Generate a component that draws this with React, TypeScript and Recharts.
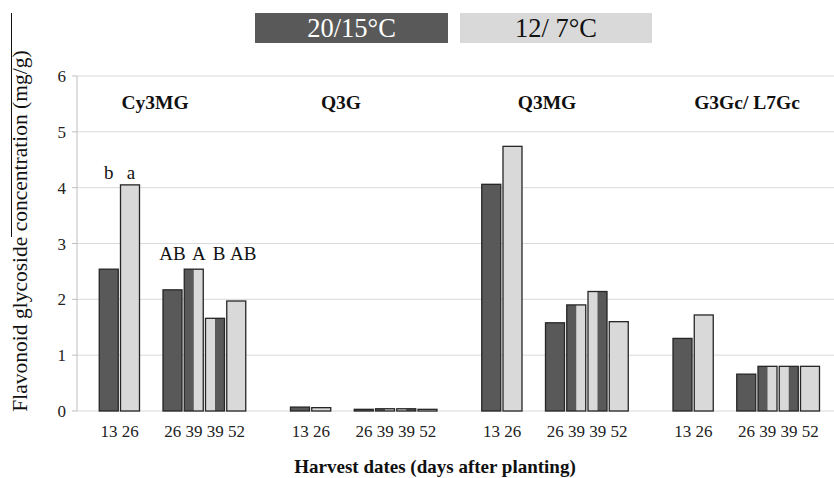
import React from "react";
import { BarChart, Bar, XAxis, YAxis, CartesianGrid, LabelList } from "recharts";

// compounds and harvest dates (days after planting)
const compounds = ["Cy3MG", "Q3G", "Q3MG", "G3Gc/ L7Gc"];
const harvestDays = ["13", "26", "26", "39", "39", "52"];

// which temperature colours each bar (left half / right half)
const leftTemp = ["warm", "cool", "warm", "warm", "cool", "cool"];
const rightTemp = ["warm", "cool", "warm", "cool", "warm", "cool"];

// concentrations (mg/g)
const cy3mg = [2.54, 4.05, 2.17, 2.54, 1.66, 1.97];
const q3g = [0.07, 0.06, 0.03, 0.04, 0.04, 0.03];
const q3mg = [4.06, 4.74, 1.58, 1.9, 2.14, 1.6];
const g3gc = [1.3, 1.72, 0.66, 0.8, 0.8, 0.8];
const cy3mgLetters = ["b", "a", "AB", "A", "B", "AB"];

const seriesByCompound = [cy3mg, q3g, q3mg, g3gc];

const WARM = "#595959";
const COOL = "#d9d9d9";
const FONT = "Liberation Serif, serif";

type Row = { day: string; slot?: number; value?: number; left?: string; right?: string; letter?: string };

const rows: Row[] = [];
compounds.forEach((_, ci) => {
  const vals = seriesByCompound[ci];
  const bar = (i: number): Row => ({
    day: harvestDays[i],
    slot: i,
    value: vals[i],
    left: leftTemp[i],
    right: rightTemp[i],
    letter: ci === 0 ? cy3mgLetters[i] : undefined,
  });
  rows.push({ day: "" }, bar(0), bar(1), { day: "" }, bar(2), bar(3), bar(4), bar(5), { day: "" });
});

const SplitBar = (props: any) => {
  const { x, y, width, height, payload } = props;
  if (!height || height <= 0) return null;
  const half = width / 2;
  const c = (t: string) => (t === "warm" ? WARM : COOL);
  return (
    <g>
      <rect x={x} y={y} width={width} height={height} fill={c(payload.left)} />
      {payload.left !== payload.right && (
        <rect x={x + half} y={y} width={width - half} height={height} fill={c(payload.right)} />
      )}
      <rect x={x} y={y} width={width} height={height} fill="none" stroke="#262626" strokeWidth={1.3} />
    </g>
  );
};

// small horizontal nudges, the letters in the original are spread a little wider than the bars
const letterNudge = [0, 1, 0, 5, 4, 7];

const letterKey = (r: Row) => (r.letter ? `${r.slot}|${r.letter}` : null);

const LetterLabel = (props: any) => {
  const { x, width, value } = props;
  if (!value) return null;
  const [slotStr, letter] = String(value).split("|");
  const slot = Number(slotStr) || 0;
  // lower-case letters sit above the first pair, capitals above the later four bars
  const ty = letter === letter.toLowerCase() ? 172 : 253;
  return (
    <text x={x + width / 2 + letterNudge[slot]} y={ty} textAnchor="middle" dominantBaseline="central" style={{ fontFamily: FONT }} fontSize={19} fill="#111">
      {letter}
    </text>
  );
};

const groupLabelX = [155, 341, 547, 747];
const tickStyle = { fontFamily: FONT, fontSize: 17, fill: "#222" };

export default function App() {
  return (
    <div style={{ position: "relative", width: 834, height: 478, fontFamily: FONT, background: "#fff" }}>
      <style>{`body{margin:0}`}</style>
      <BarChart
        width={834}
        height={478}
        data={rows}
        margin={{ top: 76, right: -8, bottom: 0, left: 0 }}
        barSize={19}
        style={{ fontFamily: FONT }}
      >
        <CartesianGrid vertical={false} stroke="#d9d9d9" />
        <XAxis
          dataKey="day"
          axisLine={false}
          tickLine={false}
          interval={0}
          height={67}
          tickSize={0}
          tickMargin={14}
          tick={tickStyle}
        />
        <YAxis
          domain={[0, 6]}
          ticks={[0, 1, 2, 3, 4, 5, 6]}
          width={77}
          axisLine={{ stroke: "#bfbfbf" }}
          tickLine={{ stroke: "#bfbfbf" }}
          tickSize={5}
          tickMargin={6}
          tick={tickStyle}
        />
        <Bar dataKey="value" shape={<SplitBar />} isAnimationActive={false}>
          <LabelList dataKey={letterKey} content={<LetterLabel />} />
        </Bar>
      </BarChart>

      {/* temperature legend */}
      <div style={{ position: "absolute", left: 255, top: 13, width: 193, height: 30, background: WARM, color: "#fff", fontSize: 26.5, textAlign: "center", lineHeight: "30px" }}>
        20/15°C
      </div>
      <div style={{ position: "absolute", left: 460, top: 13, width: 192, height: 30, background: COOL, color: "#111", fontSize: 26.5, textAlign: "center", lineHeight: "30px" }}>
        12/ 7°C
      </div>

      {/* compound names */}
      {compounds.map((c, i) => (
        <div key={c} style={{ position: "absolute", left: groupLabelX[i] - 80, top: 103, width: 160, transform: "translateY(-50%)", textAlign: "center", fontWeight: "bold", fontSize: 19.5, color: "#111" }}>
          {c}
        </div>
      ))}

      {/* y axis title */}
      <div style={{ position: "absolute", left: 20, top: 231, transform: "translate(-50%, -50%) rotate(-90deg)", whiteSpace: "nowrap", fontSize: 21.5, color: "#111" }}>
        Flavonoid glycoside concentration (mg/g)
      </div>
      <div style={{ position: "absolute", left: 11, top: 13, width: 1, height: 224, background: "#111" }} />

      {/* x axis title */}
      <div style={{ position: "absolute", left: 435, top: 467, transform: "translate(-50%, -50%)", whiteSpace: "nowrap", fontWeight: "bold", fontSize: 19, color: "#111" }}>
        Harvest dates (days after planting)
      </div>
    </div>
  );
}
